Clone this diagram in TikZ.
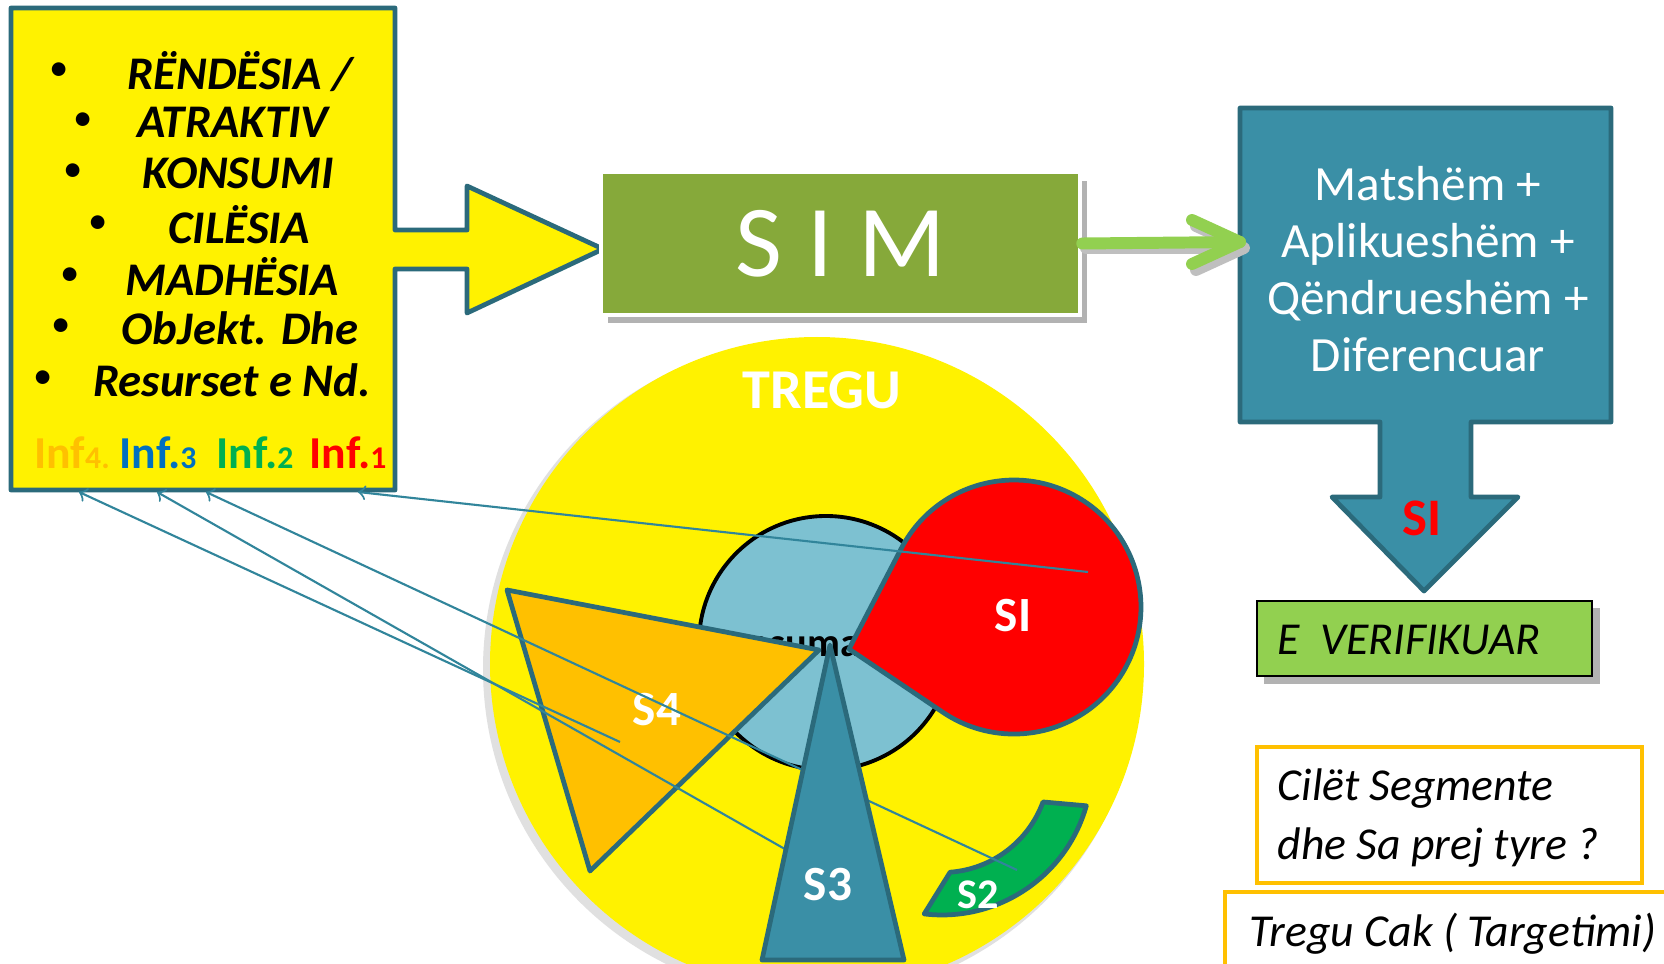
\documentclass[tikz,border=0pt]{standalone}
\usepackage{fontspec}
\setmainfont{Carlito}
\definecolor{tealline}{RGB}{43,106,123}
\definecolor{tealfill}{RGB}{58,143,166}
\definecolor{conn}{RGB}{49,133,155}
\definecolor{simgreen}{RGB}{134,169,58}
\definecolor{ltgreen}{RGB}{146,208,80}
\definecolor{orangeS}{RGB}{255,192,0}
\definecolor{ltblue}{RGB}{125,193,209}
\definecolor{greenS}{RGB}{0,176,80}
\definecolor{blueinf}{RGB}{0,112,192}
\begin{document}
\begin{tikzpicture}[x=0.01cm,y=-0.01cm,
  outl/.style={draw=tealline,line width=1.35pt,line join=round},
  seglbl/.style={text=white,font=\bfseries\fontsize{14}{14}\selectfont},
  crit/.style={font=\bfseries\itshape\fontsize{13.3}{15}\selectfont},
  infl/.style={font=\bfseries\fontsize{13}{15}\selectfont},
  boxtxt/.style={font=\itshape\fontsize{13}{17}\selectfont,anchor=west,align=left,inner sep=0pt},
  link/.style={conn,line width=0.6pt,<-}]
\clip (0,0) rectangle (1664,964);
\fill[white] (0,0) rectangle (1664,964);
% criteria box with its arrow
\draw[outl,fill=yellow] (11,8) -- (395,8) -- (395,230) -- (467,230) -- (467,186) -- (603,249)
   -- (467,313) -- (467,269) -- (395,269) -- (395,490) -- (11,490) -- cycle;
\foreach \bx/\tx/\ty/\txt [count=\i] in {59/240/72/{RËNDËSIA /},83/233/122/ATRAKTIV,73/238/173/KONSUMI,
   98/239/225/CILËSIA,70/232/277/MADHËSIA,61/240/328/ObJekt. Dhe,43/232/380/Resurset e Nd.}
  {\node[font=\fontsize{11}{11}\selectfont] (dot\i) at (\bx,\ty) {\textbullet};
   \node[crit] (crit\i) at (\tx,\ty) {\txt};}
\node[infl,text=orangeS] (inf4) at (72,453) {Inf{\fontsize{9}{9}\selectfont 4.}};
\node[infl,text=blueinf] (inf3) at (158,453) {Inf.{\fontsize{9}{9}\selectfont 3}};
\node[infl,text=greenS] (inf2) at (255,453) {Inf.{\fontsize{9}{9}\selectfont 2}};
\node[infl,text=red] (inf1) at (348,453) {Inf.{\fontsize{9}{9}\selectfont 1}};

\fill[black!30] (608,181) rectangle (1087,323);
\node[draw=white,line width=1.2pt,fill=simgreen,minimum width=4.79cm,minimum height=1.43cm,inner sep=0pt,
   text=white,font=\fontsize{29}{29}\selectfont] (sim) at (840.5,243.5) {S\hspace{0.25em}I\hspace{0.25em}M};

% requirements box and down arrow
\draw[outl,fill=tealfill] (1240,108) -- (1611,108) -- (1611,422) -- (1471,422) -- (1471,497) -- (1518,497)
   -- (1424,591) -- (1332,497) -- (1380,497) -- (1380,422) -- (1240,422) -- cycle;
\coordinate (propsW) at (1240,242);
\node[text=white,font=\fontsize{14}{16.2}\selectfont,align=center] (props) at (1428,269)
   {Matshëm +\\ Aplikueshëm +\\ Qëndrueshëm +\\ Diferencuar};
\node[text=red,font=\bfseries\fontsize{15}{15}\selectfont] (yes) at (1422,518) {SI};
\draw[black!25,line width=3.4pt,line cap=round,line join=round] (1086,248) -- (1236,248) (1196,226) -- (1244,248) -- (1196,270);
\draw[ltgreen,line width=3.4pt,line cap=round] (sim.east) -- (propsW);
\draw[ltgreen,line width=3.4pt,line cap=round,line join=round] (1192,220) -- (propsW) -- (1192,264);

\fill[black!30] (1264,608) rectangle (1600,684);
\draw[black,line width=0.6pt,fill=ltgreen] (1257,601) rectangle (1592,676);
\node[boxtxt] (verif) at (1277,640) {E\ \ VERIFIKUAR};
\draw[orangeS,line width=1.2pt,fill=white] (1257,747) rectangle (1642,883);
\node[boxtxt] (quest) at (1277,818) {Cilët Segmente\\dhe Sa prej tyre ?};
\draw[orangeS,line width=1.2pt,fill=white] (1225,892) rectangle (1700,1010);
\node[boxtxt] (target) at (1249,934) {Tregu Cak ( Targetimi)};

% market
\fill[black!12] (812,669) circle (329);
\fill[yellow] (817,664) circle (327);
\node[text=white,font=\bfseries\fontsize{16}{16}\selectfont] (market) at (822,390) {TREGU};
\draw[black,line width=1.1pt,fill=ltblue] (826,643) circle (127);
\node[font=\bfseries\fontsize{11.5}{12}\selectfont] (cons) at (812,642) {Konsumatori};
\draw[outl,fill=orangeS] (507,590) -- (819,650) -- (590,871) -- cycle;
\node[seglbl] (s4) at (657,710) {S4};
\draw[outl,fill=red] (849,649) -- (901.3,548.4) arc[start angle=207.5,end angle=484,radius=127] -- cycle;
\node[seglbl] (s1) at (1013,616) {SI};
\draw[outl,fill=greenS] (1086.3,805.8) arc[start angle=15.8,end angle=96.8,radius=150] -- (950.1,872.2)
   arc[start angle=85.7,end angle=20.1,radius=107.5] -- cycle;
\node[seglbl,font=\bfseries\fontsize{12}{12}\selectfont] (s2) at (978,895) {S2};

\coordinate (i4) at (79,492);
\coordinate (i3) at (157,492);
\coordinate (i2) at (206,492);
\coordinate (i1) at (358,492);
\coordinate (e4) at (620,742);
\coordinate (e3) at (820,869);
\coordinate (e2) at (1017,870);
\coordinate (e1) at (1088,572);
\foreach \k in {1,...,4}
  \draw[link] (i\k) -- (e\k);

\draw[outl,fill=tealfill] (830,645) -- (904,960) -- (762,960) -- cycle;
\node[seglbl] (s3) at (828,885) {S3};
\end{tikzpicture}
\end{document}
